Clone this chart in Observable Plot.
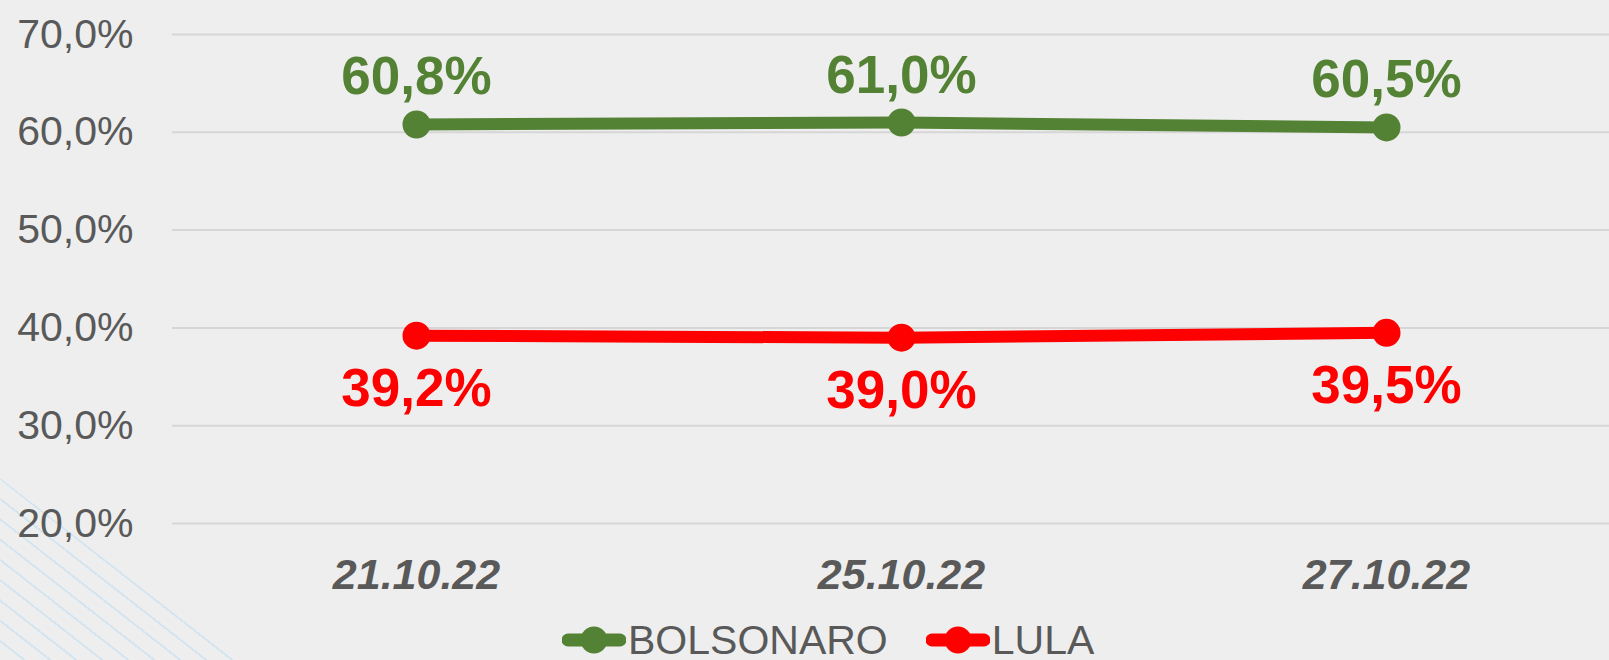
<!DOCTYPE html>
<html>
<head>
<meta charset="utf-8">
<script src="https://cdn.jsdelivr.net/npm/d3@7"></script>
<script src="https://cdn.jsdelivr.net/npm/@observablehq/plot@0.6"></script>
<style>
  html, body { margin: 0; padding: 0; background: #eeeeee; }
  #wrap { position: relative; width: 1609px; height: 660px; overflow: hidden; background: #eeeeee; font-family: "Liberation Sans", Arial, sans-serif; }
  #decor { position: absolute; left: 0; top: 470px; width: 260px; height: 190px;
    background: repeating-linear-gradient(38deg, transparent 0px, transparent 14px, #d3e5f1 14px, #d3e5f1 16px);
    clip-path: polygon(0px 8px, 235px 190px, 0px 190px); z-index: 0; }
  #chart { position: absolute; left: 0; top: 0; z-index: 1; }
  #legend { position: absolute; left: 562px; top: 621px; display: flex; align-items: center; font-size: 41px; line-height: 38px; color: #595959; z-index: 2; }
  .item { display: flex; align-items: center; margin-right: 38px; }
  .item svg { display: block; margin-right: 2px; }
</style>
</head>
<body>
<div id="wrap">
  <div id="decor"></div>
  <div id="chart"></div>
  <div id="legend"></div>
</div>
<script>
const dates = ["21.10.22", "25.10.22", "27.10.22"];
const bolsonaro = [60.8, 61.0, 60.5];
const lula = [39.2, 39.0, 39.5];
const seriesNames = ["BOLSONARO", "LULA"];
const seriesColors = ["#548235", "#FF0000"];
const yTicks = [20, 30, 40, 50, 60, 70];

const fmt = d => d.toFixed(1).replace(".", ",") + "%";
const rowsB = dates.map((d, i) => ({date: d, value: bolsonaro[i], series: "BOLSONARO"}));
const rowsL = dates.map((d, i) => ({date: d, value: lula[i], series: "LULA"}));
const rows = rowsB.concat(rowsL);

const chart = Plot.plot({
  width: 1609,
  height: 600,
  marginLeft: 172,
  marginRight: 0,
  marginTop: 34,
  marginBottom: 77,
  style: {background: "transparent", fontFamily: "'Liberation Sans', Arial, sans-serif", overflow: "visible"},
  x: {type: "point", domain: dates, range: [415.5, 1387], padding: 0},
  y: {domain: [20, 70]},
  color: {domain: seriesNames, range: seriesColors},
  marks: [
    Plot.gridY(yTicks, {stroke: "#d6d6d6", strokeOpacity: 1, strokeWidth: 2}),
    Plot.axisY(yTicks, {tickSize: 0, tickPadding: 39, fontSize: 41, fill: "#595959", tickFormat: fmt, label: null}),
    Plot.axisX({tickSize: 0, tickPadding: 35, fontSize: 43, fontWeight: "bold", fontStyle: "italic", fill: "#595959", label: null}),
    Plot.line(rows, {x: "date", y: "value", z: "series", stroke: "series", strokeWidth: 12, strokeLinecap: "round"}),
    Plot.dot(rows, {x: "date", y: "value", fill: "series", r: 14}),
    Plot.text(rowsB, {x: "date", y: "value", text: d => fmt(d.value), fill: "series", fontSize: 53, fontWeight: "bold", lineAnchor: "bottom", dy: -30}),
    Plot.text(rowsL, {x: "date", y: "value", text: d => fmt(d.value), fill: "series", fontSize: 53, fontWeight: "bold", lineAnchor: "top", dy: 33})
  ]
});
document.getElementById("chart").appendChild(chart);

const legend = document.getElementById("legend");
seriesNames.forEach((name, i) => {
  const item = document.createElement("div");
  item.className = "item";
  const c = seriesColors[i];
  item.innerHTML = `<svg width="64" height="30" viewBox="0 0 64 30"><line x1="6" y1="15" x2="58" y2="15" stroke="${c}" stroke-width="13" stroke-linecap="round"/><circle cx="32" cy="15" r="13.5" fill="${c}"/></svg><span>${name}</span>`;
  legend.appendChild(item);
});
</script>
</body>
</html>
